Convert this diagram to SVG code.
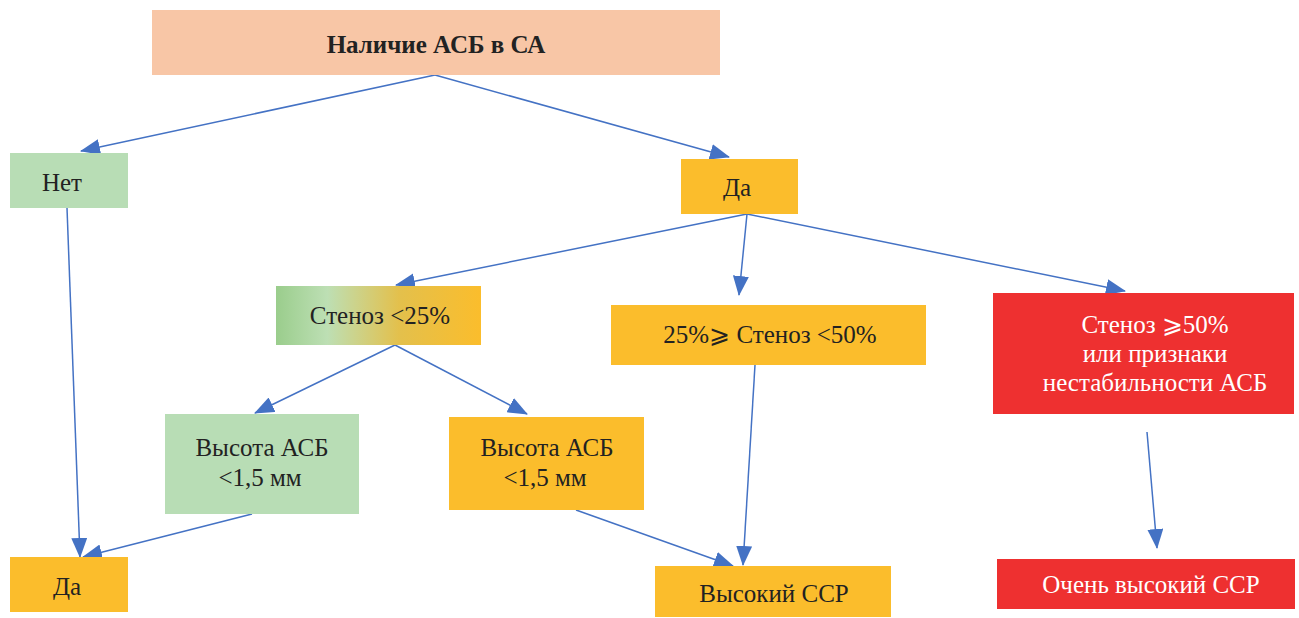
<svg xmlns="http://www.w3.org/2000/svg" width="1299" height="618" viewBox="0 0 1299 618">
<style>
text{font-family:"Liberation Serif","Times New Roman",serif;font-size:25px;fill:#222;text-anchor:middle}
.w{fill:#fff}
.b{font-weight:bold}
.ln{stroke:#4472C4;stroke-width:1.5;fill:none;marker-end:url(#ah)}
</style>
<defs>
<marker id="ah" markerWidth="20" markerHeight="16" refX="19" refY="8" orient="auto" markerUnits="userSpaceOnUse">
<path d="M0,0 L20,8 L0,16 Z" fill="#4472C4"/>
</marker>
<linearGradient id="g1" x1="0" y1="0" x2="1" y2="0">
<stop offset="0" stop-color="#9ACD8C"/>
<stop offset="0.25" stop-color="#BDDFB4"/>
<stop offset="0.6" stop-color="#E3C04C"/>
<stop offset="1" stop-color="#FBBD2C"/>
</linearGradient>
</defs>
<g id="connectors">
<line class="ln" x1="435" y1="75" x2="81" y2="151"/>
<line class="ln" x1="435" y1="75" x2="729" y2="157"/>
<line class="ln" x1="747" y1="214" x2="396" y2="285"/>
<line class="ln" x1="747" y1="214" x2="739" y2="295"/>
<line class="ln" x1="747" y1="214" x2="1125" y2="291"/>
<line class="ln" x1="395" y1="345" x2="255" y2="413"/>
<line class="ln" x1="395" y1="345" x2="527" y2="414"/>
<line class="ln" x1="67" y1="208" x2="80" y2="557"/>
<line class="ln" x1="252" y1="514" x2="83" y2="557"/>
<line class="ln" x1="576" y1="510" x2="733" y2="566"/>
<line class="ln" x1="755" y1="365" x2="743" y2="565"/>
<line class="ln" x1="1147" y1="432" x2="1157" y2="548"/>
</g>
<g id="n-root"><rect x="152" y="10" width="568" height="65" fill="#F8C6A6"/><text class="b" x="436" y="53">Наличие АСБ в СА</text></g>
<g id="n-net"><rect x="10" y="153" width="118" height="55" fill="#B8DDB5"/><text x="62" y="191">Нет</text></g>
<g id="n-da1"><rect x="681" y="159" width="117" height="55" fill="#FBBD2C"/><text x="737" y="196">Да</text></g>
<g id="n-st25"><rect x="276" y="286" width="205" height="59" fill="url(#g1)"/><text x="380" y="324">Стеноз &lt;25%</text></g>
<g id="n-st50"><rect x="611" y="305" width="315" height="60" fill="#FBBD2C"/><text x="770" y="343">25%⩾ Стеноз &lt;50%</text></g>
<g id="n-red"><rect x="993" y="293" width="301" height="121" fill="#EE3030"/><text class="w" x="1155" y="333">Стеноз ⩾50%</text><text class="w" x="1155" y="362">или признаки</text><text class="w" x="1155" y="391">нестабильности АСБ</text></g>
<g id="n-h1"><rect x="165" y="414" width="194" height="100" fill="#B8DDB5"/><text x="262" y="456">Высота АСБ</text><text x="260" y="486">&lt;1,5 мм</text></g>
<g id="n-h2"><rect x="449" y="417" width="195" height="93" fill="#FBBD2C"/><text x="547" y="456">Высота АСБ</text><text x="545" y="486">&lt;1,5 мм</text></g>
<g id="n-da2"><rect x="10" y="557" width="118" height="55" fill="#FBBD2C"/><text x="67" y="595">Да</text></g>
<g id="n-high"><rect x="655" y="566" width="236" height="51" fill="#FBBD2C"/><text x="774" y="602">Высокий ССР</text></g>
<g id="n-vhigh"><rect x="997" y="559" width="298" height="50" fill="#EE3030"/><text class="w" x="1151" y="593">Очень высокий ССР</text></g>
</svg>
